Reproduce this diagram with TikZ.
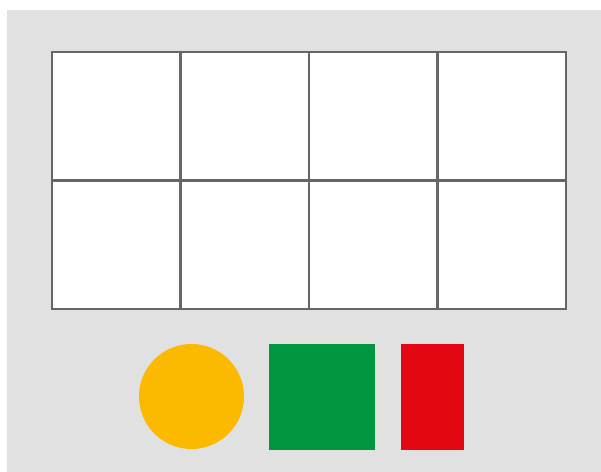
\documentclass[tikz,border=0pt]{standalone}
\usepackage{tikz}
\usetikzlibrary{positioning}
\definecolor{hatter}{HTML}{E1E1E1}
\definecolor{racs}{HTML}{666666}
\definecolor{sarga}{HTML}{FBB900}
\definecolor{zold}{HTML}{009640}
\definecolor{piros}{HTML}{E30613}
\tikzset{
  racsvonal/.style={draw=racs,line width=1.2pt},
  alak/.style={draw=none,inner sep=0pt,outer sep=0pt},
}

\begin{document}
\begin{tikzpicture}[x=0.02cm,y=-0.02cm]
  \useasboundingbox (0,0) rectangle (601,472);
  \fill[hatter] (7,10) rectangle (601,472);
  \filldraw[racsvonal,fill=white] (52,52) rectangle (566,309);
  \foreach \x in {1,2,3}
    \draw[racsvonal] ({52+128.5*\x},52) -- ++(0,257);
  \draw[racsvonal] (52,180.5) -- (566,180.5);
  \node[alak,circle,fill=sarga,minimum size=105*0.02cm] (kor) at (191.5,396.5) {};
  \node[alak,rectangle,fill=zold,minimum width=106*0.02cm,minimum height=106*0.02cm] (negyzet) at (322,397) {};
  \node[alak,rectangle,fill=piros,minimum width=63*0.02cm,minimum height=106*0.02cm] (teglalap) at (432.5,397) {};
\end{tikzpicture}
\end{document}
